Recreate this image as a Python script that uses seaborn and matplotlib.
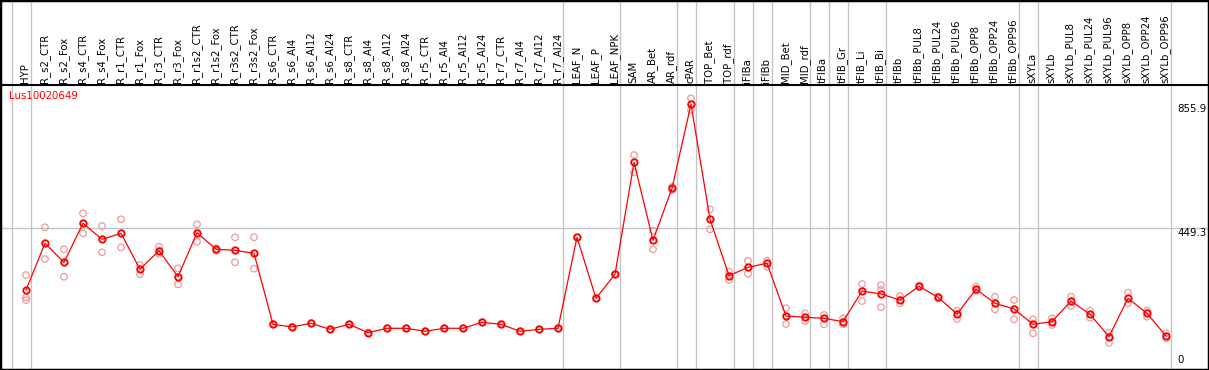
import numpy as np
import pandas as pd
import matplotlib
matplotlib.use("Agg")
import matplotlib.pyplot as plt
import matplotlib.transforms as mtransforms
import seaborn as sns

gene = "Lus10020649"

categories = [
    "HYP", "R_s2_CTR", "R_s2_Fox", "R_s4_CTR", "R_s4_Fox", "R_r1_CTR", "R_r1_Fox",
    "R_r3_CTR", "R_r3_Fox", "R_r1s2_CTR", "R_r1s2_Fox", "R_r3s2_CTR", "R_r3s2_Fox",
    "R_s6_CTR", "R_s6_Al4", "R_s6_Al12", "R_s6_Al24", "R_s8_CTR", "R_s8_Al4",
    "R_s8_Al12", "R_s8_Al24", "R_r5_CTR", "R_r5_Al4", "R_r5_Al12", "R_r5_Al24",
    "R_r7_CTR", "R_r7_Al4", "R_r7_Al12", "R_r7_Al24", "LEAF_N", "LEAF_P", "LEAF_NPK",
    "SAM", "AR_Bet", "AR_rdf", "cPAR", "TOP_Bet", "TOP_rdf", "iFIBa", "iFIBb",
    "MID_Bet", "MID_rdf", "tFIBa", "tFIB_Gr", "tFIB_Li", "tFIB_Bi", "tFIBb",
    "tFIBb_PUL8", "tFIBb_PUL24", "tFIBb_PUL96", "tFIBb_OPP8", "tFIBb_OPP24",
    "tFIBb_OPP96", "sXYLa", "sXYLb", "sXYLb_PUL8", "sXYLb_PUL24", "sXYLb_PUL96",
    "sXYLb_OPP8", "sXYLb_OPP24", "sXYLb_OPP96",
]

means = [
    246.9, 400.0, 337.7, 465.6, 413.1, 432.8, 314.8, 375.7, 290.5, 434.8, 380.3, 377.0, 367.2,
    134.4, 125.6, 137.7, 118.0, 134.4, 106.9, 121.3, 121.3, 111.5, 121.3, 121.3, 141.0, 134.4,
    111.5, 118.0, 121.3,
    419.7, 219.7, 298.4, 665.6, 409.8, 580.3, 855.9,
    478.7, 293.8, 321.3, 334.4, 161.6, 157.4, 154.1, 143.0,
    243.6, 233.8, 214.1, 259.0, 223.0, 168.2, 249.2, 203.3, 184.6,
    134.4, 143.0, 210.8, 167.2, 93.8, 219.7, 170.5, 96.1,
]

rep_hi = [
    296.0, 452.5, 380.3, 498.4, 456.7, 478.7, 328.9, 388.9, 318.0, 462.3, 383.6, 419.7, 419.7,
    134.4, 125.6, 137.7, 118.0, 134.4, 106.9, 121.3, 121.3, 111.5, 121.3, 121.3, 141.0, 134.4,
    111.5, 118.0, 121.3,
    419.7, 219.7, 298.4, 689.5, 441.3, 585.0, 875.4,
    511.5, 306.9, 342.0, 343.0, 186.9, 170.5, 164.9, 154.1,
    266.6, 263.3, 227.2, 261.0, 224.9, 179.0, 257.7, 224.9, 214.1,
    150.8, 154.1, 224.9, 179.0, 106.9, 238.0, 179.0, 104.9,
]

rep_mid = [
    214.0, 400.0, 337.7, 465.6, 413.1, 432.8, 314.8, 375.7, 290.5, 434.8, 380.3, 377.0, 367.2,
    134.4, 125.6, 137.7, 118.0, 134.4, 106.9, 121.3, 121.3, 111.5, 121.3, 121.3, 141.0, 134.4,
    111.5, 118.0, 121.3,
    419.7, 219.7, 298.4, 665.6, 409.8, 580.3, 855.9,
    478.7, 293.8, 321.3, 334.4, 161.6, 157.4, 154.1, 143.0,
    243.6, 246.9, 214.1, 259.0, 223.0, 168.2, 249.2, 203.3, 184.6,
    134.4, 143.0, 210.8, 167.2, 93.8, 219.7, 170.5, 96.1,
]

rep_lo = [
    223.0, 348.5, 290.5, 432.8, 370.5, 386.9, 298.4, 364.9, 265.6, 405.2, 374.8, 337.7, 316.7,
    134.4, 125.6, 137.7, 118.0, 134.4, 106.9, 121.3, 121.3, 111.5, 121.3, 121.3, 141.0, 134.4,
    111.5, 118.0, 121.3,
    419.7, 219.7, 298.4, 632.8, 380.3, 574.8, 837.0,
    445.9, 279.7, 300.3, 323.3, 135.4, 145.2, 134.4, 134.4,
    210.8, 190.2, 203.3, 257.0, 219.7, 151.8, 243.6, 183.6, 150.8,
    104.9, 132.1, 194.4, 156.1, 74.1, 203.3, 159.3, 88.5,
]

# last category index of each group (separator drawn just after it)
group_ends = [-1, 0, 28, 31, 34, 35, 37, 38, 39, 41, 42, 43, 45, 52, 53, 60]

tick_values = [855.9, 449.3, 0]
tick_labels = ["855.9", "449.3", "0"]

sns.set_theme(style="white")
plt.rcParams["font.family"] = ["DejaVu Sans"]

W, H = 1209, 370
fig = plt.figure(figsize=(W / 100, H / 100), dpi=100)
ax = fig.add_axes([0, 0, 1, 1])
fig.patch.set_facecolor("white")
ax.set_facecolor("white")

x0px, dxpx = 26.0, 19.0
ax.set_xlim(-x0px / dxpx, (W - x0px) / dxpx)
y0px, scale = 365.3, 0.305
ax.set_ylim(-(H - y0px) / scale, y0px / scale)

def px_to_y(p):
    return (y0px - p) / scale

grid_c = "#c4c4c4"
for e in group_ends:
    ax.axvline(e + 0.25, color=grid_c, lw=1, zorder=1)
ax.axhline(tick_values[1], color=grid_c, lw=1, zorder=1)
ax.axhline(px_to_y(85), color="black", lw=1.5, zorder=5)

pos = np.arange(len(categories))
df_rep = pd.DataFrame({
    "pos": np.concatenate([pos, pos, pos]),
    "value": rep_hi + rep_mid + rep_lo,
})
df_mean = pd.DataFrame({"pos": pos, "value": means})

sns.scatterplot(data=df_rep, x="pos", y="value", ax=ax, marker="o", s=22,
                color="#ee9a9a", linewidth=0.9, zorder=3, legend=False)
coll = ax.collections[-1]
coll.set_facecolor("none")
coll.set_edgecolor("#ee9a9a")

sns.lineplot(data=df_mean, x="pos", y="value", ax=ax, color="red", lw=0.9,
             marker="o", markersize=4.6, markerfacecolor="none",
             markeredgecolor="red", markeredgewidth=1.3, zorder=4)

trans = mtransforms.blended_transform_factory(ax.transData, ax.transAxes)
for i, c in enumerate(categories):
    ax.text(i - 0.05, 1 - 83 / H, c, transform=trans, rotation=90, ha="center",
            va="bottom", fontsize=7.3, color="black", zorder=6)

ax.text(9 / W, 1 - 91 / H, gene, transform=ax.transAxes, ha="left", va="top",
        fontsize=7.4, color="red", zorder=6)

trans2 = mtransforms.blended_transform_factory(ax.transAxes, ax.transData)
for v, lab in zip(tick_values, tick_labels):
    ax.text(1177 / W, v, lab, transform=trans2, ha="left",
            va="top" if v > 0 else "bottom", fontsize=7.4, color="black", zorder=6)

ax.set_xticks([])
ax.set_yticks([])
ax.set_xlabel("")
ax.set_ylabel("")
for s in ax.spines.values():
    s.set_visible(True)
    s.set_color("black")
    s.set_linewidth(2.5)

fig.savefig("out.png", dpi=100)
